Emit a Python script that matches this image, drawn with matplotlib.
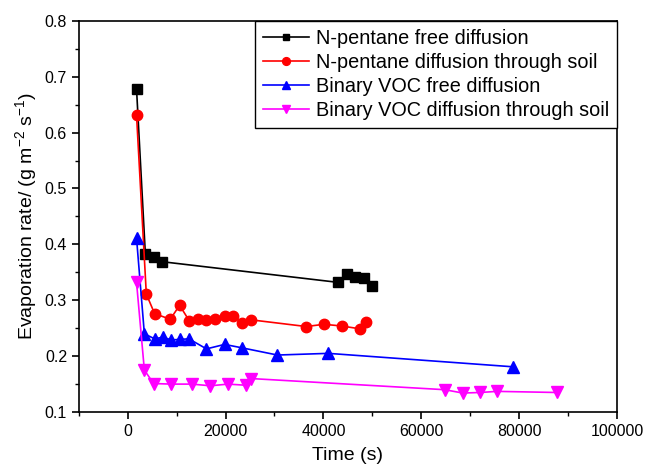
import matplotlib
matplotlib.use('Agg')
import matplotlib.pyplot as plt
from matplotlib.ticker import MultipleLocator

plt.rcParams['font.family'] = ['Liberation Sans', 'DejaVu Sans']
plt.rcParams['mathtext.default'] = 'regular'

# n-pentane, free diffusion
t_np_free = [1800, 3600, 5300, 7000, 43000, 44800, 46500, 48200, 50000]
r_np_free = [0.678, 0.383, 0.378, 0.369, 0.332, 0.347, 0.341, 0.339, 0.325]

# n-pentane, diffusion through soil
t_np_soil = [1800, 3800, 5500, 8700, 10600, 12600, 14300, 16000, 17900, 19800,
             21500, 23400, 25200, 36500, 40100, 43700, 47400, 48700]
r_np_soil = [0.631, 0.311, 0.276, 0.266, 0.291, 0.263, 0.267, 0.265, 0.266, 0.272,
             0.272, 0.259, 0.265, 0.253, 0.257, 0.254, 0.249, 0.261]

# binary VOC, free diffusion
t_voc_free = [1800, 3400, 5500, 7200, 8900, 10700, 12500, 16100, 19800, 23300,
              30600, 41000, 78700]
r_voc_free = [0.411, 0.240, 0.231, 0.234, 0.229, 0.230, 0.231, 0.213, 0.221, 0.215,
              0.202, 0.205, 0.181]

# binary VOC, diffusion through soil
t_voc_soil = [1800, 3400, 5300, 8900, 13100, 16900, 20500, 24100, 25100,
              64800, 68500, 72000, 75500, 87700]
r_voc_soil = [0.332, 0.175, 0.151, 0.150, 0.150, 0.147, 0.150, 0.148, 0.160,
              0.140, 0.134, 0.135, 0.137, 0.135]

fig, ax = plt.subplots(figsize=(6.46, 4.72), dpi=100)
fig.subplots_adjust(left=0.122, right=0.955, top=0.956, bottom=0.127)

ax.plot(t_np_free, r_np_free, color='black', marker='s', ms=6.5, lw=1.2,
        label='N-pentane free diffusion')
ax.plot(t_np_soil, r_np_soil, color='red', marker='o', ms=7.5, lw=1.2,
        label='N-pentane diffusion through soil')
ax.plot(t_voc_free, r_voc_free, color='blue', marker='^', ms=8, lw=1.2,
        label='Binary VOC free diffusion')
ax.plot(t_voc_soil, r_voc_soil, color='magenta', marker='v', ms=8, lw=1.2,
        label='Binary VOC diffusion through soil')

ax.set_xlim(-10000, 100000)
ax.set_ylim(0.1, 0.8)
ax.xaxis.set_major_locator(MultipleLocator(20000))
ax.xaxis.set_minor_locator(MultipleLocator(10000))
ax.yaxis.set_major_locator(MultipleLocator(0.1))
ax.yaxis.set_minor_locator(MultipleLocator(0.05))
ax.tick_params(which='both', direction='out', top=False, right=False, labelsize=11.5)
ax.tick_params(which='major', length=5, width=1.2)
ax.tick_params(which='minor', length=3, width=1.0)
for s in ax.spines.values():
    s.set_linewidth(1.2)

ax.set_xlabel('Time (s)', fontsize=14, labelpad=6)
ax.set_ylabel('Evaporation rate/ (g m$^{-2}$ s$^{-1}$)', fontsize=14)

leg = ax.legend(loc='upper right', fontsize=14.3, frameon=True, fancybox=False,
                edgecolor='black', framealpha=1, borderaxespad=0, markerscale=0.75,
                handlelength=2.3, borderpad=0.4, labelspacing=0.26, handletextpad=0.35)
leg.get_frame().set_linewidth(1.0)

fig.savefig('out.png', dpi=100)
